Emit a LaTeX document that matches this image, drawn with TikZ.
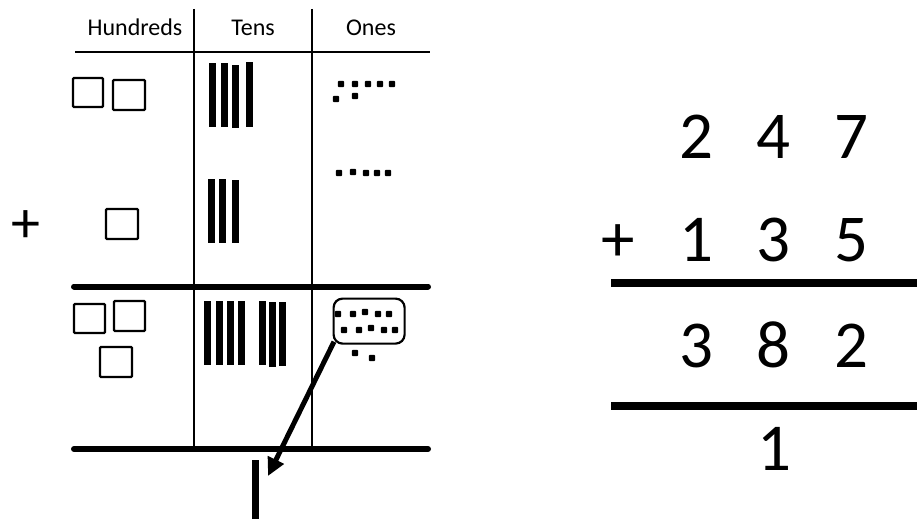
\documentclass[tikz,border=0pt]{standalone}
\usepackage{fontspec}
\setmainfont{Carlito}
\usetikzlibrary{arrows.meta}
\newcommand\rodat[3]{\fill (#1,#2) rectangle ({#1+7.3},#3);}
\newcommand\dotat[2]{\fill[rounded corners=0.8pt] ({#1-3.1},{#2-3.1}) rectangle ({#1+3.1},{#2+3.1});}
\begin{document}
\begin{tikzpicture}[x=1pt,y=-1pt,
  thinrule/.style={line width=1.6pt},
  thickrule/.style={line width=6pt, line cap=round},
  sumrule/.style={line width=8pt},
  hbox/.style={draw, line width=2.3pt, rounded corners=1pt},
  hdr/.style={font=\fontsize{24}{27}\selectfont, anchor=base, inner sep=0pt},
  dig/.style={font=\fontsize{67}{70}\selectfont, anchor=base, inner sep=0pt},
]
\useasboundingbox (0,0) rectangle (917,519);

% grid lines
\draw[thinrule] (194,9) -- (194,449);
\draw[thinrule] (312,9) -- (312,449);
\draw[thinrule] (75,52) -- (430,52);
\draw[thickrule] (74,286.5) -- (428,286.5);
\draw[thickrule] (74,449) -- (428,449);

% headers
\node[hdr] (hh) at (135,36) {Hundreds};
\node[hdr] (ht) at (253,36) {Tens};
\node[hdr] (ho) at (371,36) {Ones};

% plus on the left
\node[font=\fontsize{58}{60}\selectfont, anchor=base, inner sep=0pt] (lplus) at (26,242) {+};

% hundreds
\draw[hbox] (73,78) rectangle (103,107);
\draw[hbox] (113,80) rectangle (145,110);
\draw[hbox] (106,209) rectangle (138,239);
\draw[hbox] (74,304) rectangle (105,333);
\draw[hbox] (114,301) rectangle (145,331);
\draw[hbox] (100,347) rectangle (132,377);

% tens
\rodat{209}{63}{127}
\rodat{221}{63}{127}
\rodat{232}{65}{128}
\rodat{246}{62}{127}
\rodat{208}{179}{243}
\rodat{219}{179}{243}
\rodat{232}{180}{243}
\rodat{204}{301}{365}
\rodat{216}{301}{365}
\rodat{227}{301}{365}
\rodat{238}{301}{365}
\rodat{259}{301}{365}
\rodat{269}{302}{367}
\rodat{279}{302}{366}

% ones
\dotat{341}{84}\dotat{355}{84}\dotat{368}{84}\dotat{380}{84}\dotat{392}{84}
\dotat{336}{99}\dotat{355}{96}
\dotat{339}{173}\dotat{353}{172}\dotat{366}{173}\dotat{377}{173}\dotat{388}{173}
\node[draw, line width=2.2pt, rounded corners=9pt, minimum width=71pt, minimum height=45pt,
      inner sep=0pt, anchor=north west] (obox) at (332.5,297.5) {};
\dotat{338}{314}\dotat{353}{314}\dotat{365}{312}\dotat{378}{314}\dotat{389}{314}
\dotat{344}{330}\dotat{359}{330}\dotat{371}{328}\dotat{384}{330}\dotat{395}{330}
\dotat{355}{353}\dotat{372}{358}

% regrouped ten
\coordinate (tip) at (268,476);
\draw[line width=5pt, -{Triangle[length=18pt,width=17pt]}]
  ([xshift=1.5pt,yshift=3pt]obox.south west) -- (tip);
\rodat{252}{460}{519}

% written algorithm
\node[dig] (a1) at (696,158) {2};
\node[dig] (a2) at (773,158) {4};
\node[dig] (a3) at (851,158) {7};
\node[dig] (rplus) at (618,261) {+};
\node[dig] (b1) at (696,261) {1};
\node[dig] (b2) at (773,261) {3};
\node[dig] (b3) at (851,261) {5};
\coordinate (r1a) at (611,283);
\coordinate (r1b) at (917,283);
\draw[sumrule] (r1a) -- (r1b);
\node[dig] (c1) at (696,367) {3};
\node[dig] (c2) at (773,367) {8};
\node[dig] (c3) at (851,367) {2};
\coordinate (r2a) at (611,406);
\coordinate (r2b) at (917,406);
\draw[sumrule] (r2a) -- (r2b);
\node[dig] (d2) at (774,470) {1};
\end{tikzpicture}
\end{document}
